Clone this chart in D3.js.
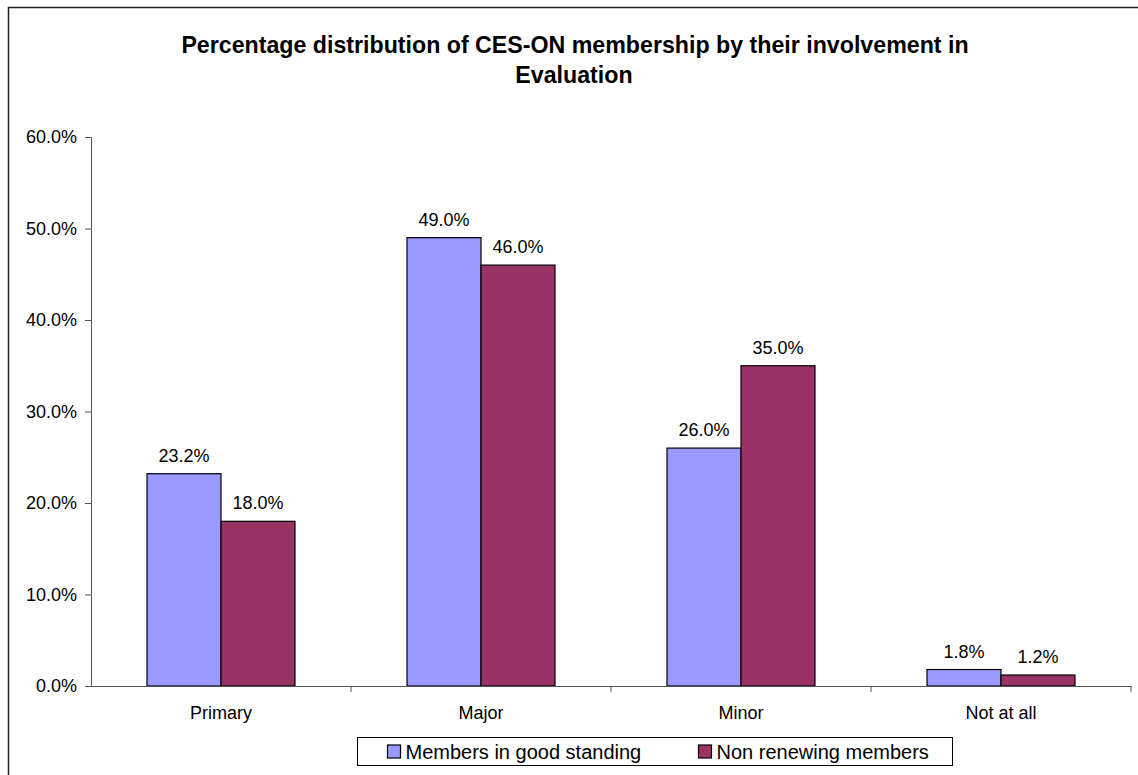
<!DOCTYPE html>
<html>
<head>
<meta charset="utf-8">
<script src="https://cdn.jsdelivr.net/npm/d3@7"></script>
<style>
  html, body { margin: 0; padding: 0; background: #fff; }
  svg { display: block; font-family: "Liberation Sans", Arial, sans-serif; }
</style>
</head>
<body>
<div id="chart"></div>
<script>
const categories = ['Primary', 'Major', 'Minor', 'Not at all'];
const seriesNames = ['Members in good standing', 'Non renewing members'];
const goodStanding = [23.2, 49.0, 26.0, 1.8];
const nonRenewing = [18.0, 46.0, 35.0, 1.2];
const yTicks = [0, 10, 20, 30, 40, 50, 60];
const colors = ['#9999FF', '#993366'];

const width = 1138, height = 775;
const margin = { top: 137, right: 7, bottom: 89, left: 91 };

const svg = d3.select('#chart')
    .append('svg')
    .attr('width', width)
    .attr('height', height);

// Outer chart frame (runs off the right and bottom of the picture)
svg.append('rect')
    .attr('x', 8.5).attr('y', 7.5)
    .attr('width', 1200).attr('height', 900)
    .attr('fill', 'none')
    .attr('stroke', '#222')
    .attr('stroke-width', 1.5);

// Title
const title = svg.append('text')
    .attr('text-anchor', 'middle')
    .attr('font-weight', 'bold')
    .attr('font-size', 23.2)
    .attr('fill', '#000');
title.append('tspan').attr('x', 575).attr('y', 53)
    .text('Percentage distribution of CES-ON membership by their involvement in');
title.append('tspan').attr('x', 574).attr('y', 83)
    .text('Evaluation');

const x = d3.scaleBand()
    .domain(categories)
    .range([margin.left, width - margin.right])
    .paddingInner(0)
    .paddingOuter(0);

const x1 = d3.scaleBand()
    .domain([0, 1])
    .range([0, x.bandwidth()])
    .paddingOuter(0.757)
    .paddingInner(0);

const y = d3.scaleLinear()
    .domain([0, 60])
    .range([height - margin.bottom, margin.top]);

// Y axis
const yAxis = svg.append('g')
    .attr('transform', `translate(${margin.left},0)`)
    .call(d3.axisLeft(y)
        .tickValues(yTicks)
        .tickSize(6)
        .tickPadding(8)
        .tickFormat(d => d.toFixed(1) + '%'));
yAxis.select('.domain').attr('stroke', '#555');
yAxis.selectAll('.tick line').attr('stroke', '#555');
yAxis.selectAll('.tick text')
    .attr('font-size', 18)
    .attr('font-family', '"Liberation Sans", Arial, sans-serif')
    .attr('fill', '#000');

// Bars
const series = [goodStanding, nonRenewing];
const groups = svg.append('g').selectAll('g')
    .data(categories)
    .join('g')
    .attr('transform', d => `translate(${x(d)},0)`);

groups.selectAll('rect')
    .data((d, i) => series.map((s, k) => ({ k, v: s[i] })))
    .join('rect')
    .attr('x', d => x1(d.k))
    .attr('y', d => y(d.v))
    .attr('width', x1.bandwidth())
    .attr('height', d => y(0) - y(d.v))
    .attr('fill', d => colors[d.k])
    .attr('stroke', '#000')
    .attr('stroke-width', 1.2);

groups.selectAll('text')
    .data((d, i) => series.map((s, k) => ({ k, v: s[i] })))
    .join('text')
    .attr('x', d => x1(d.k) + x1.bandwidth() / 2)
    .attr('y', d => y(d.v) - 12)
    .attr('text-anchor', 'middle')
    .attr('font-size', 18)
    .attr('fill', '#000')
    .text(d => d.v.toFixed(1) + '%');

// X axis
const xAxis = svg.append('g')
    .attr('transform', `translate(0,${y(0)})`)
    .call(d3.axisBottom(x).tickSize(0).tickPadding(20));
xAxis.select('.domain').attr('stroke', '#555');
xAxis.selectAll('.tick text')
    .attr('font-size', 18)
    .attr('font-family', '"Liberation Sans", Arial, sans-serif')
    .attr('fill', '#000');

// category separators on the x axis
const sepPositions = categories.map(c => x(c) + x.bandwidth());
svg.append('g').selectAll('line')
    .data(sepPositions)
    .join('line')
    .attr('x1', d => d).attr('x2', d => d)
    .attr('y1', y(0)).attr('y2', y(0) + 6)
    .attr('stroke', '#555');

// Legend
const legend = svg.append('g').attr('transform', 'translate(357.5,737.5)');
legend.append('rect')
    .attr('width', 595).attr('height', 28)
    .attr('fill', '#fff')
    .attr('stroke', '#000')
    .attr('stroke-width', 1);

const legendX = [30, 341];
const items = legend.selectAll('g.item')
    .data(seriesNames)
    .join('g')
    .attr('class', 'item')
    .attr('transform', (d, i) => `translate(${legendX[i]},0)`);
items.append('rect')
    .attr('x', 0).attr('y', 7.5)
    .attr('width', 13).attr('height', 13)
    .attr('fill', (d, i) => colors[i])
    .attr('stroke', '#000')
    .attr('stroke-width', 1.2);
items.append('text')
    .attr('x', 18).attr('y', 21.5)
    .attr('font-size', 20)
    .attr('fill', '#000')
    .text(d => d);
</script>
</body>
</html>
